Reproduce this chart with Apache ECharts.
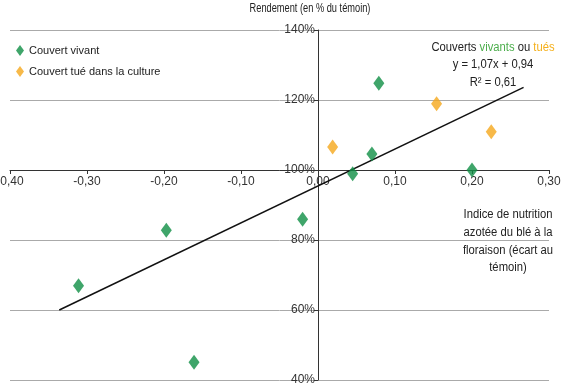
<!DOCTYPE html>
<html><head><meta charset="utf-8">
<script src="https://cdn.jsdelivr.net/npm/echarts@6/dist/echarts.min.js"></script>
<style>html,body{margin:0;padding:0;background:#fff}#c{width:564px;height:388px}</style>
</head><body><div id="c"></div>
<script>
const FONT = "'Liberation Sans Narrow', 'Liberation Sans', Arial, sans-serif";
const vivantX = [-0.311, -0.197, -0.161, -0.020, 0.045, 0.070, 0.079, 0.200];
const vivantY = [66.9, 82.8, 45.1, 85.9, 98.9, 104.6, 124.8, 100.0];
const tueX = [0.019, 0.154, 0.225];
const tueY = [106.6, 118.9, 110.9];
const trendX = [-0.336, 0.267];
const trendY = [60.0, 123.6];
const xTicks = {min: -0.4, max: 0.3, step: 0.1};
const yTicks = {min: 40, max: 140, step: 20};

const zip = (a, b) => a.map((v, i) => [v, b[i]]);
const chart = echarts.init(document.getElementById('c'));
chart.setOption({
  animation: false,
  textStyle: {fontFamily: FONT},
  grid: {left: 10, right: 15, top: 30, bottom: 8, containLabel: false, outerBoundsMode: 'none'},
  legend: {
    orient: 'vertical', left: 11, top: 40, itemGap: 10,
    icon: 'diamond', itemWidth: 8, itemHeight: 11,
    textStyle: {fontFamily: FONT, fontSize: 11, color: '#222'},
    data: ['Couvert vivant', 'Couvert tué dans la culture']
  },
  xAxis: {
    type: 'value', min: xTicks.min, max: xTicks.max, interval: xTicks.step,
    position: 'bottom', offset: -210,
    axisLine: {onZero: false, lineStyle: {color: '#333', width: 1}},
    axisTick: {show: true, length: 4, lineStyle: {color: '#333'}},
    axisLabel: {margin: 6, fontSize: 12, color: '#333', fontFamily: FONT,
      formatter: v => v.toFixed(2).replace('.', ',')},
    splitLine: {show: false}
  },
  yAxis: {
    type: 'value', min: yTicks.min, max: yTicks.max, interval: yTicks.step,
    position: 'left', offset: -308,
    axisLine: {show: true, onZero: false, lineStyle: {color: '#333', width: 1}},
    axisTick: {show: true, length: 4, lineStyle: {color: '#333'}},
    axisLabel: {margin: 3, fontSize: 12, color: '#333', fontFamily: FONT,
      formatter: v => v + '%'},
    splitLine: {show: true, lineStyle: {color: '#aaa', width: 1}}
  },
  graphic: [
    {type: 'text', x: 310, y: 2, scaleX: 0.74, style: {text: 'Rendement (en % du témoin)', fill: '#222', fontSize: 12.5, fontFamily: FONT, align: 'center'}},
    {type: 'text', x: 493, y: 39, scaleX: 0.9, style: {
      text: '{k|Couverts }{g|vivants}{k| ou }{o|tués}\n{k|y = 1,07x + 0,94}\n{k|R² = 0,61}',
      align: 'center', lineHeight: 17.3,
      rich: {
        k: {fill: '#222', fontSize: 12.5, fontFamily: FONT, lineHeight: 17.3},
        g: {fill: '#4cae4c', fontSize: 12.5, fontFamily: FONT, lineHeight: 17.3},
        o: {fill: '#f5b01c', fontSize: 12.5, fontFamily: FONT, lineHeight: 17.3}
      }
    }},
    {type: 'text', x: 508, y: 206, scaleX: 0.9, style: {
      text: 'Indice de nutrition\nazotée du blé à la\nfloraison (écart au\ntémoin)',
      align: 'center', fill: '#222', fontSize: 12.5, fontFamily: FONT, lineHeight: 17.7
    }}
  ],
  series: [
    {name: 'Tendance', type: 'line', data: zip(trendX, trendY), symbol: 'none',
      lineStyle: {color: '#111', width: 1.5}, silent: true, z: 1},
    {name: 'Couvert vivant', type: 'scatter', data: zip(vivantX, vivantY),
      symbol: 'diamond', symbolSize: [11, 15], itemStyle: {color: '#0f8f45'}, z: 3},
    {name: 'Couvert tué dans la culture', type: 'scatter', data: zip(tueX, tueY),
      symbol: 'diamond', symbolSize: [11, 15], itemStyle: {color: '#f5a81c'}, z: 3}
  ]
});
</script></body></html>
